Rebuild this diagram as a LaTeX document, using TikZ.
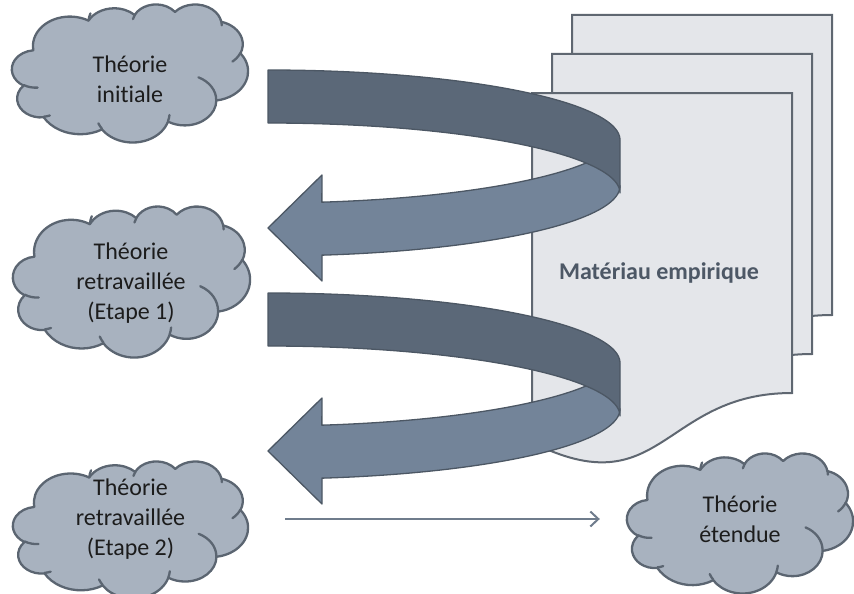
\documentclass[tikz,border=0pt]{standalone}
\usepackage{fontspec}
\setmainfont{Carlito}[Ligatures=NoCommon]
\usetikzlibrary{arrows.meta}

\definecolor{cloudfill}{HTML}{A8B2BF}
\definecolor{cloudline}{HTML}{5B6571}
\definecolor{pagefill}{HTML}{E4E6EA}
\definecolor{pageline}{HTML}{5F6771}
\definecolor{bandback}{HTML}{5B6878}
\definecolor{bandfront}{HTML}{738499}
\definecolor{bandline}{HTML}{4C5764}
\definecolor{flowline}{HTML}{6F7C8C}
\definecolor{labeltext}{HTML}{1C1C1C}
\definecolor{pagetext}{HTML}{4D5866}

% parametric start angle and sweep of an elliptic arc given by its visual angles
\newcommand\ppang[5]{%
  \pgfmathsetmacro\tmpS{atan2((#2)*sin(#4),(#3)*cos(#4))}%
  \pgfmathsetmacro\tmpE{atan2((#2)*sin((#4)+(#5)),(#3)*cos((#4)+(#5)))}%
  \pgfmathsetmacro\tmpD{mod(\tmpE-(\tmpS)+720,360)}%
  \expandafter\xdef\csname ppS#1\endcsname{\tmpS}%
  \expandafter\xdef\csname ppD#1\endcsname{\tmpD}%
}
\ppang{A}{67.53}{91.90}{-190.4875}{123.7805}
\ppang{B}{53.33}{72.67}{-144.1024}{89.9452}
\ppang{C}{43.65}{59.45}{-145.8079}{99.7230}
\ppang{D}{48.57}{65.95}{-130.9861}{117.2417}
\ppang{E}{53.33}{72.73}{-78.7089}{109.0269}
\ppang{F}{67.75}{92.20}{-46.2673}{130.2690}
\ppang{G}{57.85}{78.67}{0.6250}{114.0333}
\ppang{H}{67.52}{92.15}{22.4516}{115.1726}
\ppang{I}{77.20}{105.43}{66.2426}{75.7110}
\ppang{J}{43.60}{59.18}{-274.9421}{146.7356}
\ppang{K}{43.45}{59.45}{-246.8285}{152.5189}
\ppang{L}{43.45}{59.45}{86.742}{26.4295}
\ppang{M}{43.60}{59.18}{73.6105}{11.4475}
\ppang{N}{67.52}{92.15}{137.6242}{14.0811}
\ppang{O}{67.52}{92.15}{6.4533}{15.9984}
\ppang{P}{57.85}{78.67}{-70.2924}{70.9174}
\ppang{Q}{53.33}{72.73}{30.318}{27.7515}
\ppang{R}{48.57}{65.95}{-13.7443}{14.8589}
\ppang{T}{43.65}{59.45}{-163.4943}{18.6677}
\ppang{U}{67.53}{91.90}{-173.342}{18.9023}

% cloud filling the box with top-left corner (#1,#2), width #3, height #4
\newcommand\pptcloud[4]{%
  \begin{scope}[shift={(#1,#2)}, x={(#3pt/432,0pt)}, y={(0pt,-#4pt/432)}]
    \filldraw[cloudbody] (39.00,143.70)
      arc[start angle=\ppSA, delta angle=\ppDA, x radius=67.53, y radius=91.90]
      arc[start angle=\ppSB, delta angle=\ppDB, x radius=53.33, y radius=72.67]
      arc[start angle=\ppSC, delta angle=\ppDC, x radius=43.65, y radius=59.45]
      arc[start angle=\ppSD, delta angle=\ppDD, x radius=48.57, y radius=65.95]
      arc[start angle=\ppSE, delta angle=\ppDE, x radius=53.33, y radius=72.73]
      arc[start angle=\ppSF, delta angle=\ppDF, x radius=67.75, y radius=92.20]
      arc[start angle=\ppSG, delta angle=\ppDG, x radius=57.85, y radius=78.67]
      arc[start angle=\ppSH, delta angle=\ppDH, x radius=67.52, y radius=92.15]
      arc[start angle=\ppSI, delta angle=\ppDI, x radius=77.20, y radius=105.43]
      arc[start angle=\ppSJ, delta angle=\ppDJ, x radius=43.60, y radius=59.18]
      arc[start angle=\ppSK, delta angle=\ppDK, x radius=43.45, y radius=59.45]
      -- cycle;
    \draw[cloudcurl]
      (46.93,261.77) arc[start angle=\ppSL, delta angle=\ppDL, x radius=43.45, y radius=59.45]
      (69.28,348.99) arc[start angle=\ppSM, delta angle=\ppDM, x radius=43.60, y radius=59.18]
      (164.78,390.90) arc[start angle=\ppSN, delta angle=\ppDN, x radius=67.52, y radius=92.15]
      (288.27,347.51) arc[start angle=\ppSO, delta angle=\ppDO, x radius=67.52, y radius=92.15]
      (341.29,229.54) arc[start angle=\ppSP, delta angle=\ppDP, x radius=57.85, y radius=78.67]
      (417.98,153.54) arc[start angle=\ppSQ, delta angle=\ppDQ, x radius=53.33, y radius=72.73]
      (383.24,54.26) arc[start angle=\ppSR, delta angle=\ppDR, x radius=48.57, y radius=65.95]
      (221.41,47.20) arc[start angle=\ppST, delta angle=\ppDT, x radius=43.65, y radius=59.45]
      (140.00,51.92) arc[start angle=\ppSU, delta angle=\ppDU, x radius=67.53, y radius=91.90];
  \end{scope}}

% sheet with a wavy lower edge, top-left corner at (#1,#2)
\newcommand\docsheet[2]{%
  \filldraw[pagebody] (#1,#2) -- ({#1+260},#2) -- ({#1+260},{#2+300})
    .. controls ({#1+130},{#2+300}) and ({#1+130},{#2+414.3}) .. (#1,{#2+349.4}) -- cycle;}

\begin{document}
\begin{tikzpicture}[x=1pt,y=-1pt,
    cloudbody/.style={fill=cloudfill,draw=cloudline,line width=2.3pt,line join=round},
    cloudcurl/.style={draw=cloudline,line width=2.3pt,line cap=round},
    pagebody/.style={fill=pagefill,draw=pageline,line width=2pt},
    bandb/.style={fill=bandback,draw=bandline,line width=1.3pt,line join=round},
    bandf/.style={fill=bandfront,draw=bandline,line width=1.3pt,line join=round},
    label/.style={font=\fontsize{24}{30}\selectfont,text=labeltext,align=center,inner sep=0pt},
    connector/.style={draw=flowline,line width=2pt,-{Straight Barb[length=8pt,width=15pt]}}]
  \useasboundingbox (0,0) rectangle (854,594);

  % stack of empirical material sheets
  \docsheet{572}{15}
  \docsheet{552}{54}
  \docsheet{532}{93}
  \node[font=\fontsize{24}{30}\selectfont\bfseries,text=pagetext,inner sep=0pt] (mat) at (659,273) {Matériau empirique};

  % two ribbon arrows winding around the sheets
  \foreach \o in {0,223}{
    \filldraw[bandf] (322,{175+\o}) -- (268,{228+\o}) -- (322,{281+\o}) -- (322,{255+\o})
      -- plot[domain=81.2:0,samples=60] ({268+352*cos(\x)},{186+\o+70*sin(\x)})
      -- (598.8,{157+\o})
      -- plot[domain=20:81.2,samples=50] ({268+352*cos(\x)},{133+\o+70*sin(\x)})
      -- cycle;
    \filldraw[bandb] plot[domain=-90:0,samples=60] ({268+352*cos(\x)},{140+\o+70*sin(\x)})
      -- plot[domain=0:-90,samples=60] ({268+352*cos(\x)},{193+\o+70*sin(\x)})
      -- cycle;
  }

  % theory clouds
  \pptcloud{12}{4}{236}{138}
  \pptcloud{13}{206}{237}{151}
  \pptcloud{13}{461}{235}{137}
  \pptcloud{627}{453}{226}{140}

  \node[label] (c1) at (130,79) {Théorie\\initiale};
  \node[label] (c2) at (131,283) {Théorie\\retravaillée\\(Etape 1)};
  \node[label,minimum width=235pt] (c3) at (130.5,519) {Théorie\\retravaillée\\(Etape 2)};
  \node[label,minimum width=226pt] (c4) at (740,519) {Théorie\\étendue};

  \draw[connector,shorten <=37pt,shorten >=27pt] (c3.east) -- (c3.east -| c4.west);
\end{tikzpicture}
\end{document}
